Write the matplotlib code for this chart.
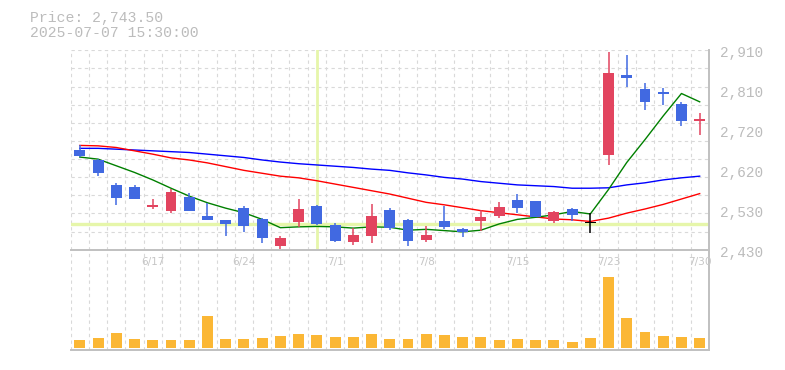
import matplotlib
matplotlib.use("Agg")
import matplotlib.pyplot as plt
import matplotlib.transforms as mtrans
import numpy as np

# ---------------- data ----------------
dates = ['6/11', '6/12', '6/13', '6/16', '6/17', '6/18', '6/19', '6/20', '6/23', '6/24',
         '6/25', '6/26', '6/27', '6/30', '7/1', '7/2', '7/3', '7/4', '7/7', '7/8',
         '7/9', '7/10', '7/11', '7/14', '7/15', '7/16', '7/17', '7/18', '7/22', '7/23',
         '7/24', '7/25', '7/28', '7/29', '7/30']
opens = [2670, 2646, 2586, 2581, 2533, 2524, 2557, 2511, 2502, 2530,
         2504, 2440, 2497, 2536, 2490, 2449, 2464, 2526, 2502, 2453,
         2499, 2480, 2499, 2512, 2550, 2547, 2500, 2528, 2496, 2658,
         2851, 2817, 2809, 2780, 2740]
highs = [2681, 2648, 2590, 2586, 2552, 2575, 2566, 2542, 2502, 2536,
         2507, 2464, 2552, 2538, 2495, 2482, 2541, 2530, 2503, 2487,
         2535, 2482, 2526, 2545, 2564, 2548, 2522, 2531, 2518, 2907,
         2899, 2831, 2820, 2785, 2759]
lows = [2652, 2608, 2538, 2552, 2529, 2519, 2522, 2502, 2463, 2473,
        2445, 2432, 2485, 2489, 2448, 2442, 2447, 2477, 2440, 2449,
        2479, 2461, 2476, 2507, 2519, 2509, 2495, 2500, 2471, 2634,
        2822, 2766, 2778, 2728, 2706]
closes = [2656, 2615, 2555, 2552, 2538, 2569, 2524, 2502, 2493, 2488,
          2459, 2457, 2528, 2493, 2452, 2465, 2511, 2482, 2452, 2465,
          2485, 2473, 2508, 2533, 2530, 2509, 2521, 2514, 2496, 2855,
          2844, 2786, 2805, 2740, 2743.5]
volumes = [24000, 30000, 45000, 27000, 24000, 24000, 24000, 96000, 27000, 27000,
           30000, 36000, 42000, 39000, 33000, 33000, 42000, 27000, 27000, 42000,
           39000, 33000, 33000, 24000, 27000, 24000, 24000, 18000, 30000, 213000,
           90000, 48000, 36000, 33000, 30000]
ma_short = [2653, 2648, 2632, 2616, 2598, 2578, 2559, 2543, 2530, 2519,
            2503, 2483, 2485, 2486, 2485, 2482, 2485, 2484, 2477, 2479,
            2476, 2473, 2477, 2492, 2503, 2508, 2514, 2522, 2516, 2575,
            2640, 2695, 2752, 2806, 2786]
ma_mid = [2681, 2680, 2676, 2668, 2660, 2651, 2646, 2639, 2630, 2621,
          2614, 2607, 2603, 2596, 2588, 2580, 2572, 2564, 2554, 2544,
          2538, 2531, 2524, 2519, 2514, 2509, 2504, 2502, 2498, 2506,
          2518, 2528, 2539, 2552, 2565]
ma_long = [2674, 2674, 2672, 2670, 2668, 2666, 2664, 2660, 2656, 2652,
           2646, 2641, 2637, 2634, 2631, 2628, 2624, 2621, 2615, 2610,
           2604, 2600, 2594, 2590, 2586, 2584, 2582, 2578, 2578, 2579,
           2586, 2591, 2598, 2603, 2607]
date_ticks = ['6/17', '6/24', '7/1', '7/8', '7/15', '7/23', '7/30']
price_tick_values = [2430, 2526, 2622, 2718, 2814, 2910]
price_tick_labels = ['2,430', '2,530', '2,620', '2,720', '2,810', '2,910']
title_price = 'Price: 2,743.50'
title_time = '2025-07-07 15:30:00'
focus_index = 13

# ---------------- layout ----------------
W, H = 785, 370
fig = plt.figure(figsize=(W / 100, H / 100), dpi=100)
fig.patch.set_facecolor('white')

x_left, x_right = 70.7, 708.8
p_top, p_bot = 50.3, 249.7
v_top, v_bot = 249.7, 350.0

ax = fig.add_axes([x_left / W, 1 - p_bot / H, (x_right - x_left) / W, (p_bot - p_top) / H])
axv = fig.add_axes([x_left / W, 1 - v_bot / H, (x_right - x_left) / W, (v_bot - v_top) / H])

n = len(dates)
x = np.arange(n)
GRID = '#d9d9d9'
SPINE = '#c0c0c0'
TXT = '#bcbcbc'
RED = '#e2445f'
BLUE = '#4169e1'
HL = '#e6f6aa'

for a in (ax, axv):
    a.set_xlim(-0.5, n - 0.5)
    a.set_xticks([])
    a.set_yticks([])
    for s in ('left', 'top'):
        a.spines[s].set_visible(False)
    for s in ('right', 'bottom'):
        a.spines[s].set_color(SPINE)
        a.spines[s].set_linewidth(1.4)
    a.set_facecolor('none')
    for i in range(n):
        a.axvline(i - 0.5, color=GRID, lw=0.8, ls=(0, (3, 3)), zorder=0)

ymin, ymax = 2430, 2910
ax.set_ylim(ymin, ymax)
for k in range(1, 12):
    ax.axhline(ymin + k * (ymax - ymin) / 11, color=GRID, lw=0.8, ls=(0, (3, 3)), zorder=0)

# crosshair highlight
ax.axvline(focus_index, color=HL, lw=2.0, zorder=1)
ax.axhline(closes[focus_index], color=HL, lw=2.4, zorder=1)

# moving averages
ax.plot(x, ma_long, color='#0000ff', lw=1.0, zorder=2)
ax.plot(x, ma_mid, color='#ff0000', lw=1.0, zorder=2)
ax.plot(x, ma_short, color='#008000', lw=1.0, zorder=2)

# candles
bw = 0.6
for i in range(n):
    o, h, l, c = opens[i], highs[i], lows[i], closes[i]
    col = RED if c > o else (BLUE if c < o else 'black')
    ax.vlines(i, l, h, color=col, lw=1.1, zorder=3)
    hgt = max(abs(c - o), 3.0)
    bottom = min(o, c) if abs(c - o) >= 3.0 else (o + c) / 2 - 1.5
    ax.bar(i, hgt, bottom=bottom, width=bw, color=col, edgecolor='none', zorder=4)

# price labels
lab_trans = mtrans.offset_copy(mtrans.blended_transform_factory(ax.transAxes, ax.transData),
                               fig=fig, x=11, y=-3, units='dots')
for v, s in zip(price_tick_values, price_tick_labels):
    ax.text(1.0, v, s, transform=lab_trans, ha='left', va='center',
            fontsize=10.4, family='Liberation Mono', color=TXT, clip_on=False)

# volume
vol_px = 3000.0  # volume units per pixel
axv.set_ylim(-2 * vol_px, (v_bot - v_top - 2) * vol_px)
axv.bar(x, volumes, width=bw, color='#fbb735', edgecolor='none', zorder=2)

# date labels
date_trans = mtrans.blended_transform_factory(axv.transData, fig.transFigure)
for d in date_ticks:
    i = dates.index(d)
    axv.text(i, 1 - 262.5 / H, d, transform=date_trans, ha='center', va='center',
             fontsize=7.6, family='DejaVu Sans', color='#c6c6c6')

# header
fig.text(30 / W, 1 - 22 / H, title_price, ha='left', va='baseline',
         fontsize=10.6, family='Liberation Mono', color=TXT)
fig.text(30 / W, 1 - 37.3 / H, title_time, ha='left', va='baseline',
         fontsize=10.6, family='Liberation Mono', color=TXT)

fig.savefig('out.png', dpi=100, facecolor='white')
